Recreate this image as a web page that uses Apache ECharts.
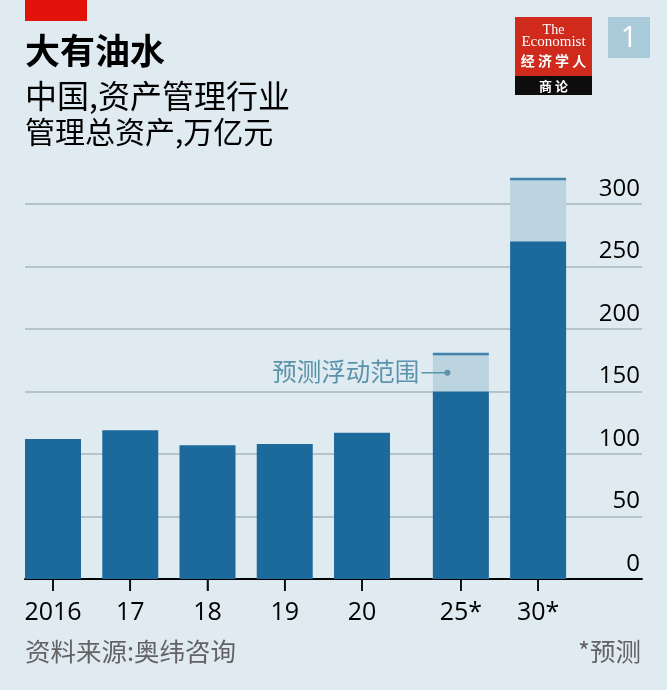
<!DOCTYPE html>
<html><head><meta charset="utf-8">
<script src="https://cdn.jsdelivr.net/npm/echarts@6/dist/echarts.min.js"></script>
<style>html,body{margin:0;padding:0;background:#dfebf1}#c{width:667px;height:690px}</style>
</head><body><div id="c"></div>
<script>
// ---- data ----
const categories = ['2016', '17', '18', '19', '20', '25*', '30*'];
const assets = [112, 119, 107, 108, 117, 150, 270];          // dark bars (low end for forecasts)
const forecastHigh = [null, null, null, null, null, 180, 320]; // top of forecast range
const yTicks = [0, 50, 100, 150, 200, 250, 300];
// ---- layout: slot position of each category on the x scale ----
const slots = [0, 1, 2, 3, 4, 5.28, 6.28];

const DARK = '#1c6a9c', LIGHT = '#bcd4e0', ANNO = '#5b93ab';
const CJK = '"Noto Sans CJK SC", sans-serif';
const NUM = '"Open Sans", sans-serif';

const chart = echarts.init(document.getElementById('c'), null, {renderer: 'canvas'});
const labelFor = v => { const i = slots.findIndex(s => Math.abs(s - v) < 1e-6); return i >= 0 ? categories[i] : ''; };

const option = {
  backgroundColor: '#dfebf1',
  animation: false,
  grid: {left: 25, right: 25, top: 204, bottom: 111},
  xAxis: {
    type: 'value', min: -0.3625, max: 7.625,
    splitLine: {show: false},
    axisLine: {show: true, lineStyle: {color: '#000', width: 2}},
    axisTick: {show: true, customValues: slots, length: 12, lineStyle: {color: '#000', width: 1.5}},
    axisLabel: {customValues: slots, formatter: labelFor, fontSize: 25, fontFamily: NUM, color: '#000', margin: 21}
  },
  yAxis: {
    type: 'value', position: 'right', min: yTicks[0], max: yTicks[yTicks.length - 1], interval: 50,
    axisLine: {show: false}, axisTick: {show: false},
    splitLine: {lineStyle: {color: '#b5c3cb', width: 2}},
    axisLabel: {inside: true, margin: 2, verticalAlign: 'bottom', fontSize: 24, fontFamily: NUM, color: '#000', padding: [0, 0, 3, 0]}
  },
  series: [
    {type: 'bar', name: 'range', barWidth: 56, barGap: '-100%', clip: false,
     itemStyle: {color: LIGHT},
     data: slots.map((s, i) => [s, forecastHigh[i]]).filter(d => d[1] != null)},
    {type: 'bar', name: 'assets', barWidth: 56, barGap: '-100%', clip: false,
     itemStyle: {color: DARK},
     data: slots.map((s, i) => [s, assets[i]])},
    {type: 'scatter', name: 'cap', symbol: 'rect', symbolSize: [56, 2.5], clip: false, z: 5,
     itemStyle: {color: DARK},
     data: slots.map((s, i) => [s, forecastHigh[i]]).filter(d => d[1] != null)},
    // category tick marks below the baseline
    {type: 'scatter', name: 'ticks', symbol: 'rect', symbolSize: [1.6, 12], symbolOffset: [0, 6], clip: false, z: 6,
     silent: true, itemStyle: {color: '#000'},
     data: slots.map(s => [s, 0])}
  ],
  graphic: [
    {type: 'rect', shape: {x: 25, y: 0, width: 62, height: 21}, style: {fill: '#e3120b'}},
    {type: 'text', style: {text: '大有油水', x: 25, y: 51, font: 'bold 35px ' + CJK, fill: '#000', textVerticalAlign: 'middle'}},
    {type: 'text', style: {text: '中国,资产管理行业', x: 25, y: 96, font: '32px ' + CJK, fill: '#000', textVerticalAlign: 'middle'}},
    {type: 'text', style: {text: '管理总资产,万亿元', x: 25, y: 132, font: '30px ' + CJK, fill: '#000', textVerticalAlign: 'middle'}},
    // logo
    {type: 'rect', shape: {x: 515, y: 17, width: 77, height: 59}, style: {fill: '#cf2a1c'}},
    {type: 'rect', shape: {x: 515, y: 76, width: 77, height: 19}, style: {fill: '#0d0d0d'}},
    {type: 'text', style: {text: 'The', x: 553.5, y: 30, font: '14px "Liberation Serif", serif', fill: '#fff', textAlign: 'center', textVerticalAlign: 'middle'}},
    {type: 'text', style: {text: 'Economist', x: 553.5, y: 42, font: '15px "Liberation Serif", serif', fill: '#fff', textAlign: 'center', textVerticalAlign: 'middle'}},
    {type: 'text', style: {text: '经 济 学 人', x: 553.5, y: 61, font: 'bold 14px ' + CJK, fill: '#fff', textAlign: 'center', textVerticalAlign: 'middle'}},
    {type: 'text', style: {text: '商 论', x: 553.5, y: 86, font: 'bold 13px ' + CJK, fill: '#fff', textAlign: 'center', textVerticalAlign: 'middle'}},
    {type: 'rect', shape: {x: 608, y: 17, width: 42, height: 41}, style: {fill: '#a9cad8'}},
    {type: 'text', style: {text: '1', x: 629, y: 38, font: '30px ' + NUM, fill: '#fff', textAlign: 'center', textVerticalAlign: 'middle'}},
    // footer
    {type: 'text', style: {text: '资料来源:奥纬咨询', x: 25, y: 651, font: '25.5px ' + CJK, fill: '#636363', textVerticalAlign: 'middle'}},
    {type: 'text', style: {text: '*预测', x: 641, y: 651, font: '25.5px ' + CJK, fill: '#636363', textAlign: 'right', textVerticalAlign: 'middle'}}
  ]
};
chart.setOption(option);

// annotation anchored to the 25* forecast range
const mid = chart.convertToPixel({gridIndex: 0}, [slots[5], (assets[5] + forecastHigh[5]) / 2]);
const dx = mid[0] - 13.5, dy = mid[1];
chart.setOption({graphic: option.graphic.concat([
  {type: 'line', z: 100, shape: {x1: dx - 26, y1: dy, x2: dx, y2: dy}, style: {stroke: ANNO, lineWidth: 1.5}},
  {type: 'circle', z: 101, shape: {cx: dx, cy: dy, r: 3}, style: {fill: ANNO}},
  {type: 'text', z: 100, style: {text: '预测浮动范围', x: dx - 28, y: dy - 1, font: '24.5px ' + CJK, fill: ANNO, textAlign: 'right', textVerticalAlign: 'middle'}}
])});
</script></body></html>
